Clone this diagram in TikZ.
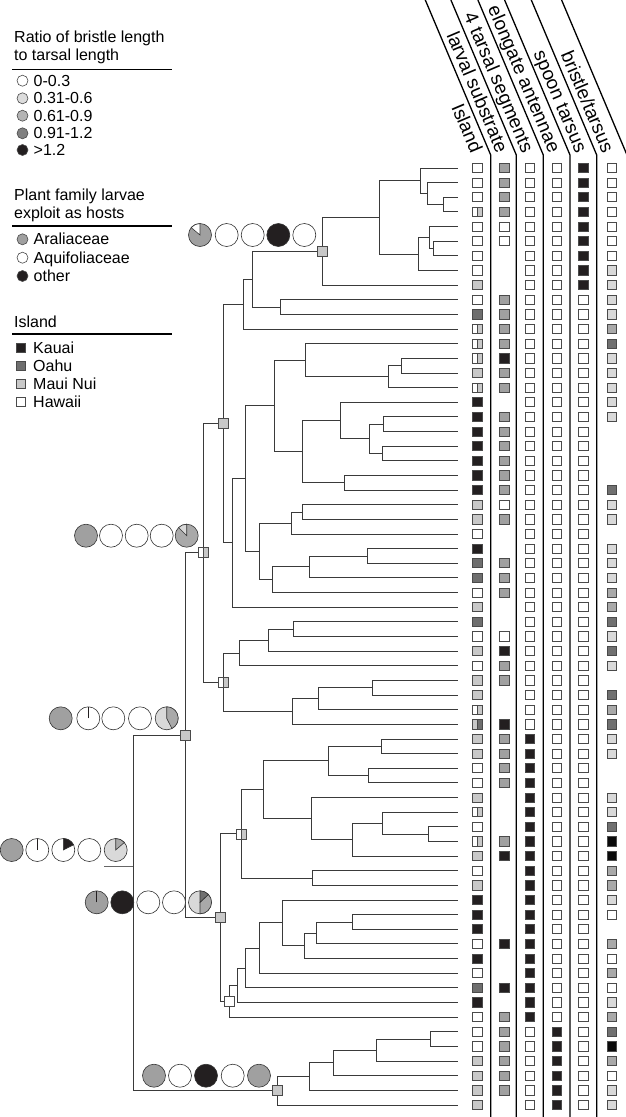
\documentclass[tikz,border=0pt]{standalone}
\usepackage{fontspec}
\setmainfont{Liberation Sans}
\definecolor{kauai}{HTML}{231F20}
\definecolor{oahu}{HTML}{6E6E6E}
\definecolor{maui}{HTML}{C8C8C8}
\definecolor{aral}{HTML}{A0A0A0}
\definecolor{brL}{HTML}{D9D9D9}
\definecolor{brM}{HTML}{A9A9A9}
\definecolor{brD}{HTML}{707070}
\definecolor{brK}{HTML}{0A0A0A}
\definecolor{sqln}{HTML}{4A4A4A}
\definecolor{pieln}{HTML}{333333}
\definecolor{brn}{HTML}{3A3A3A}
\definecolor{lgA}{HTML}{DCDCDC}
\definecolor{lgB}{HTML}{B4B4B4}
\definecolor{lgC}{HTML}{808080}
\newcommand\pwedge[4]{\filldraw[fill=#4,draw=pieln,line width=0.6pt] (#1) -- ++(#2:11.5pt) arc[start angle=#2,end angle=#3,radius=11.5pt] -- cycle;}
\newcommand\clade[3]{\draw[branch] (#1) |- (#2) (#1) |- (#3);}
\begin{document}
\begin{tikzpicture}[x=1pt,y=-1pt,
  branch/.style={draw=brn,line width=0.9pt},
  sepline/.style={draw=black,line width=1.3pt},
  csq/.style={rectangle,draw=sqln,line width=0.8pt,minimum size=9.2pt,inner sep=0pt,outer sep=0pt},
  halfR/.style={path picture={\fill[#1] (path picture bounding box.north) rectangle (path picture bounding box.south east);\draw[sqln,line width=0.5pt] (path picture bounding box.north) -- (path picture bounding box.south);}},
  isl/.is choice,
  isl/H/.style={fill=white}, isl/K/.style={fill=kauai}, isl/O/.style={fill=oahu}, isl/M/.style={fill=maui},
  isl/S/.style={fill=white,halfR=maui}, isl/T/.style={fill=maui,halfR=oahu},
  lar/.is choice, lar/G/.style={fill=aral}, lar/W/.style={fill=white}, lar/B/.style={fill=kauai},
  bri/.is choice, bri/w/.style={fill=white}, bri/l/.style={fill=brL}, bri/m/.style={fill=brM}, bri/d/.style={fill=brD}, bri/k/.style={fill=brK},
  pie/.style={circle,draw=pieln,line width=0.6pt,minimum size=23pt,inner sep=0pt},
  lgc/.style={circle,draw=sqln,line width=0.6pt,minimum size=11pt,inner sep=0pt},
  lgs/.style={rectangle,draw=sqln,line width=0.6pt,minimum size=8.5pt,inner sep=0pt},
  lgtxt/.style={anchor=base west,inner sep=0pt,font=\fontsize{16}{18}\selectfont},
  hdr/.style={anchor=base east,inner sep=0pt,rotate=-67,font=\fontsize{19}{21}\selectfont},
  nsq/.style={csq,minimum size=10pt}
]
\useasboundingbox (0,0) rectangle (626,1117);

% ---------- legend ----------
\node[lgtxt] (lg1) at (14,42.2) {Ratio of bristle length};
\node[lgtxt] (lg2) at (14,60.5) {to tarsal length};
\draw[line width=1.5pt] (12,69.3) -- (172,69.3);
\node[lgc,fill=white] (lc1) at (22.5,80.7) {};
\node[lgc,fill=lgA] (lc2) at (22.5,98.3) {};
\node[lgc,fill=lgB] (lc3) at (22.5,115.7) {};
\node[lgc,fill=lgC] (lc4) at (22.5,133.3) {};
\node[lgc,fill=kauai] (lc5) at (22.5,150) {};
\node[lgtxt] (lt1) at (33.5,86.2) {0-0.3};
\node[lgtxt] (lt2) at (33.5,103.8) {0.31-0.6};
\node[lgtxt] (lt3) at (33.5,121.2) {0.61-0.9};
\node[lgtxt] (lt4) at (33.5,138.8) {0.91-1.2};
\node[lgtxt] (lt5) at (33.5,155.5) {>1.2};

\node[lgtxt] (lg3) at (14,200.5) {Plant family larvae};
\node[lgtxt] (lg4) at (14,218.2) {exploit as hosts};
\draw[line width=1.5pt] (12,226) -- (172,226);
\node[lgc,fill=aral] (lp1) at (22.5,239.3) {};
\node[lgc,fill=white] (lp2) at (22.5,257.7) {};
\node[lgc,fill=kauai] (lp3) at (22.5,276) {};
\node[lgtxt] (lpt1) at (33.5,244.8) {Araliaceae};
\node[lgtxt] (lpt2) at (33.5,263.2) {Aquifoliaceae};
\node[lgtxt] (lpt3) at (33.5,281.5) {other};

\node[lgtxt] (lg5) at (14,327.2) {Island};
\draw[line width=1.5pt] (12,334) -- (172,334);
\node[lgs,fill=kauai] (ls1) at (21,348) {};
\node[lgs,fill=oahu] (ls2) at (21,366) {};
\node[lgs,fill=maui] (ls3) at (21,384) {};
\node[lgs,fill=white] (ls4) at (21,402) {};
\node[lgtxt] (lst1) at (33,353.5) {Kauai};
\node[lgtxt] (lst2) at (33,371.5) {Oahu};
\node[lgtxt] (lst3) at (33,389.5) {Maui Nui};
\node[lgtxt] (lst4) at (33,407.5) {Hawaii};

% ---------- header ----------
\foreach \v in {490.7,516.3,543.3,570,596.7}
  \draw[sepline] ({\v-65.4},0) -- (\v,155) -- (\v,1117);
\draw[sepline] (561.6,0) -- (627,155);
\node[hdr] (h0) at (471,154) {Island};
\node[hdr] (h1) at (496.7,154) {larval substrate};
\node[hdr] (h2) at (522.3,154) {4 tarsal segments};
\node[hdr] (h3) at (549.3,154) {elongate antennae};
\node[hdr] (h4) at (576,154) {spoon tarsus};
\node[hdr] (h5) at (602.7,154) {bristle/tarsus};

% ---------- tree ----------
\foreach \i in {0,...,64}{\coordinate (l\i) at (458,{168+14.64*\i});}
\coordinate (nC) at (443,204.60);
\coordinate (nB) at (427,193.62);
\coordinate (nA) at (420,180.81);
\coordinate (nE) at (433,248.52);
\coordinate (nD) at (429,237.54);
\coordinate (nF) at (418,254.01);
\coordinate (nG) at (379,217.41);
\coordinate (nH) at (322,251.27);
\coordinate (nJ) at (280,307.08);
\coordinate (nI) at (252,279.17);
\coordinate (nK) at (243,304.11);
\coordinate (nR) at (401,365.64);
\coordinate (nQ) at (388,376.62);
\coordinate (nP) at (305,360.15);
\coordinate (nV) at (383,424.20);
\coordinate (nW) at (382,453.48);
\coordinate (nU) at (369,438.84);
\coordinate (nT) at (340,420.54);
\coordinate (nX) at (344,482.76);
\coordinate (nS) at (302,451.65);
\coordinate (nO) at (274,405.90);
\coordinate (nAA) at (302,512.04);
\coordinate (nZ) at (291,523.02);
\coordinate (nAD) at (367,555.96);
\coordinate (nAC) at (309,566.94);
\coordinate (nAB) at (272,579.75);
\coordinate (nY) at (259,551.39);
\coordinate (nN) at (245,478.64);
\coordinate (nM) at (232,542.92);
\coordinate (nL) at (223,423.52);
\coordinate (nAH) at (293,629.16);
\coordinate (nAG) at (268,640.14);
\coordinate (nAF) at (239,652.95);
\coordinate (nAK) at (372,687.72);
\coordinate (nAJ) at (318,698.70);
\coordinate (nAI) at (292,711.51);
\coordinate (nAE) at (223,682.23);
\coordinate (nLL) at (203,552.87);
\coordinate (nAT) at (381,746.28);
\coordinate (nAU) at (368,775.56);
\coordinate (nAS) at (328,760.92);
\coordinate (nAY) at (428,834.12);
\coordinate (nAX) at (382,823.14);
\coordinate (nAW) at (352,839.61);
\coordinate (nAV) at (311,818.57);
\coordinate (nAR) at (263,789.74);
\coordinate (nAQ) at (312,878.04);
\coordinate (nAO) at (241,833.89);
\coordinate (nBB) at (352,921.96);
\coordinate (nBC) at (316,932.94);
\coordinate (nBD) at (304,945.75);
\coordinate (nBE) at (282,922.88);
\coordinate (nBF) at (259,948.04);
\coordinate (nBG) at (245,967.94);
\coordinate (nBH) at (237,985.21);
\coordinate (nAP) at (229.5,1001.17);
\coordinate (nAM) at (220,917.53);
\coordinate (nAL) at (185,735.20);
\coordinate (nBM) at (430,1039.08);
\coordinate (nBL) at (376,1050.06);
\coordinate (nBK) at (333,1062.87);
\coordinate (nBJ) at (309,1076.60);
\coordinate (nBI) at (277,1090.78);
\coordinate (nAN) at (133,866);
\coordinate (root) at (104,866);

\clade{nC}{l2}{l3}
\clade{nB}{l1}{nC}
\clade{nA}{l0}{nB}
\clade{nE}{l5}{l6}
\clade{nD}{l4}{nE}
\clade{nF}{nD}{l7}
\clade{nG}{nA}{nF}
\clade{nH}{nG}{l8}
\clade{nJ}{l9}{l10}
\clade{nI}{nH}{nJ}
\clade{nK}{nI}{l11}
\clade{nR}{l13}{l14}
\clade{nQ}{nR}{l15}
\clade{nP}{l12}{nQ}
\clade{nV}{l17}{l18}
\clade{nW}{l19}{l20}
\clade{nU}{nV}{nW}
\clade{nT}{l16}{nU}
\clade{nX}{l21}{l22}
\clade{nS}{nT}{nX}
\clade{nO}{nP}{nS}
\clade{nAA}{l23}{l24}
\clade{nZ}{nAA}{l25}
\clade{nAD}{l26}{l27}
\clade{nAC}{nAD}{l28}
\clade{nAB}{nAC}{l29}
\clade{nY}{nZ}{nAB}
\clade{nN}{nO}{nY}
\clade{nM}{nN}{l30}
\clade{nL}{nK}{nM}
\clade{nAH}{l31}{l32}
\clade{nAG}{nAH}{l33}
\clade{nAF}{nAG}{l34}
\clade{nAK}{l35}{l36}
\clade{nAJ}{nAK}{l37}
\clade{nAI}{nAJ}{l38}
\clade{nAE}{nAF}{nAI}
\clade{nLL}{nL}{nAE}
\clade{nAT}{l39}{l40}
\clade{nAU}{l41}{l42}
\clade{nAS}{nAT}{nAU}
\clade{nAY}{l45}{l46}
\clade{nAX}{l44}{nAY}
\clade{nAW}{nAX}{l47}
\clade{nAV}{l43}{nAW}
\clade{nAR}{nAS}{nAV}
\clade{nAQ}{l48}{l49}
\clade{nAO}{nAR}{nAQ}
\clade{nBB}{l51}{l52}
\clade{nBC}{nBB}{l53}
\clade{nBD}{nBC}{l54}
\clade{nBE}{l50}{nBD}
\clade{nBF}{nBE}{l55}
\clade{nBG}{nBF}{l56}
\clade{nBH}{nBG}{l57}
\clade{nAP}{nBH}{l58}
\clade{nAM}{nAO}{nAP}
\clade{nAL}{nLL}{nAM}
\clade{nBM}{l59}{l60}
\clade{nBL}{nBM}{l61}
\clade{nBK}{nBL}{l62}
\clade{nBJ}{nBK}{l63}
\clade{nBI}{nBJ}{l64}
\clade{nAN}{nAL}{nBI}
\draw[branch,draw=black!60] (root) -- (nAN);

% node markers
\node[nsq,fill=maui] (sH) at (nH) {};
\node[nsq,fill=maui] (sL) at (nL) {};
\node[nsq,fill=white,halfR=maui] (sLL) at (nLL) {};
\node[nsq,fill=white,halfR=maui] (sAE) at (nAE) {};
\node[nsq,fill=maui] (sAL) at (nAL) {};
\node[nsq,fill=white,halfR=maui] (sAO) at (nAO) {};
\node[nsq,fill=maui] (sAM) at (nAM) {};
\node[nsq,fill=white] (sAP) at (nAP) {};
\node[nsq,fill=maui] (sBI) at (nBI) {};

% ---------- pies ----------
\node[pie,fill=aral] (p11) at (200,235) {};
\pwedge{p11.center}{90}{140}{white}
\node[pie,fill=white] (p12) at (226.7,235) {};
\node[pie,fill=white] (p13) at (252.7,235) {};
\node[pie,fill=kauai] (p14) at (278.3,235) {};
\node[pie,fill=white] (p15) at (304.3,235) {};

\node[pie,fill=aral] (p21) at (86,535.7) {};
\node[pie,fill=white] (p22) at (111,535.7) {};
\node[pie,fill=white] (p23) at (136.7,535.7) {};
\node[pie,fill=white] (p24) at (161.7,535.7) {};
\node[pie,fill=brM] (p25) at (186.7,535.7) {};
\pwedge{p25.center}{90}{135}{brL}

\node[pie,fill=aral] (p31) at (60.7,718.3) {};
\node[pie,fill=white] (p32) at (88.3,718.3) {};
\draw[kauai,line width=0.9pt] (p32.center) -- ++(90:11.5pt);
\node[pie,fill=white] (p33) at (113.3,718.3) {};
\node[pie,fill=white] (p34) at (140,718.3) {};
\node[pie,fill=brL] (p35) at (166.7,718.3) {};
\pwedge{p35.center}{-63}{90}{brM}

\node[pie,fill=aral] (p41) at (11.7,850) {};
\node[pie,fill=white] (p42) at (37.3,850) {};
\draw[kauai,line width=0.9pt] (p42.center) -- ++(90:11.5pt);
\node[pie,fill=white] (p43) at (63.3,850) {};
\pwedge{p43.center}{27}{90}{kauai}
\node[pie,fill=white] (p44) at (89.3,850) {};
\node[pie,fill=brL] (p45) at (115.7,850) {};
\pwedge{p45.center}{41}{90}{brM}

\node[pie,fill=aral] (p51) at (96.7,902.3) {};
\draw[kauai,line width=0.9pt] (p51.center) -- ++(90:11.5pt);
\node[pie,fill=kauai] (p52) at (122.3,902.3) {};
\node[pie,fill=white] (p53) at (148.3,902.3) {};
\node[pie,fill=white] (p54) at (174,902.3) {};
\node[pie,fill=brL] (p55) at (200,902.3) {};
\pwedge{p55.center}{-90}{43}{brM}
\pwedge{p55.center}{43}{90}{brD}

\node[pie,fill=aral] (p61) at (154,1075.7) {};
\node[pie,fill=white] (p62) at (180,1075.7) {};
\node[pie,fill=kauai] (p63) at (206,1075.7) {};
\node[pie,fill=white] (p64) at (232.7,1075.7) {};
\node[pie,fill=aral] (p65) at (259,1075.7) {};

% ---------- character columns ----------
\foreach \c [count=\i from 0] in {H,H,H,S,H,H,H,H,M,H,O,S,S,S,M,S,K,K,K,K,K,K,K,M,M,H,K,O,O,H,M,O,H,M,H,M,M,S,T,M,M,H,H,M,S,H,S,M,H,M,K,K,K,H,K,H,O,K,H,H,H,M,M,M,M}
  {\node[csq,isl=\c] (isl\i) at (477.3,{168+14.64*\i}) {};}
\foreach \c [count=\i from 0] in {G,G,G,G,W,W,N,N,N,G,G,G,G,B,G,G,N,G,G,G,G,G,G,W,G,N,N,G,G,G,N,N,W,B,G,G,N,N,B,G,G,G,G,N,N,N,G,B,N,N,N,N,N,B,N,N,B,N,G,G,G,G,G,G,N}
  {\if\c N\else\node[csq,lar=\c] (lar\i) at (504.3,{168+14.64*\i}) {};\fi}
\foreach \i in {0,...,38}{\node[csq,fill=white] (tar\i) at (530,{168+14.64*\i}) {};}
\foreach \i in {39,...,58}{\node[csq,fill=kauai] (tar\i) at (530,{168+14.64*\i}) {};}
\foreach \i in {59,...,64}{\node[csq,fill=white] (tar\i) at (530,{168+14.64*\i}) {};}
\foreach \i in {0,...,58}{\node[csq,fill=white] (ant\i) at (556.7,{168+14.64*\i}) {};}
\foreach \i in {59,...,64}{\node[csq,fill=kauai] (ant\i) at (556.7,{168+14.64*\i}) {};}
\foreach \i in {0,...,8}{\node[csq,fill=kauai] (spn\i) at (583.3,{168+14.64*\i}) {};}
\foreach \i in {9,...,64}{\node[csq,fill=white] (spn\i) at (583.3,{168+14.64*\i}) {};}
\foreach \c [count=\i from 0] in {w,w,w,w,w,w,w,l,l,l,l,m,d,l,l,l,l,l,N,N,N,N,d,l,l,N,l,l,l,m,m,d,l,d,l,N,d,m,d,l,l,N,N,l,l,d,k,k,m,m,l,w,N,m,w,m,w,l,m,d,k,m,w,l,l}
  {\if\c N\else\node[csq,bri=\c] (bri\i) at (611.7,{168+14.64*\i}) {};\fi}
\end{tikzpicture}
\end{document}
